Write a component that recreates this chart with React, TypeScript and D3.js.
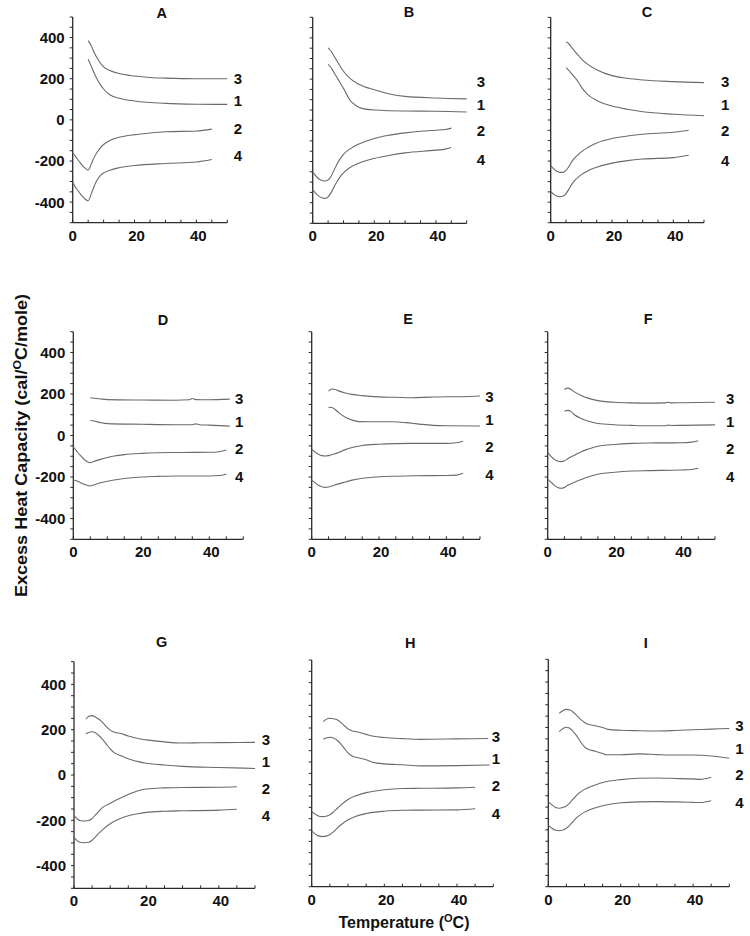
import React from "react";
import * as d3 from "d3";

type Pt = [number, number];

// ---------- DATA ----------
const panelNames = ["A", "B", "C", "D", "E", "F", "G", "H", "I"];
const curveNames = ["3", "1", "2", "4"];
const xTicks = d3.range(0, 51, 5);
const xTickLabels = [0, 20, 40];
const yTicks = d3.range(-500, 501, 50);
const yTickLabels = [400, 200, 0, -200, -400];

// Panel A
const A3: Pt[] = [[5,385],[6,360],[7,325],[8,298],[9,275],[10,258],[12,240],[15,225],[20,213],[25,206],[30,203],[40,200],[50,200]];
const A1: Pt[] = [[5,295],[6,260],[7,225],[8,195],[9,170],[10,150],[12,122],[15,105],[20,92],[30,80],[40,76],[50,75]];
const A2: Pt[] = [[0,-160],[1,-180],[2,-200],[3,-220],[4,-235],[5,-244],[6,-215],[7,-180],[8,-155],[9,-135],[10,-120],[12,-100],[15,-85],[20,-72],[25,-64],[30,-58],[40,-54],[45,-45]];
const A4: Pt[] = [[0,-305],[1,-330],[2,-350],[3,-370],[4,-385],[5,-393],[6,-360],[7,-320],[8,-290],[9,-270],[10,-258],[12,-245],[15,-233],[20,-222],[30,-212],[40,-205],[45,-193]];
// Panel B
const B3: Pt[] = [[5,352],[6,335],[7,310],[8,285],[9,260],[10,238],[12,205],[15,175],[20,148],[25,128],[30,116],[40,108],[50,104]];
const B1: Pt[] = [[5,272],[6,255],[7,230],[8,205],[9,180],[10,155],[12,100],[14,72],[16,58],[20,50],[30,45],[40,44],[50,40]];
const B2: Pt[] = [[0,-250],[1,-270],[2,-285],[3,-292],[4,-295],[5,-290],[6,-270],[7,-240],[8,-210],[9,-185],[10,-165],[12,-140],[15,-115],[20,-88],[25,-72],[30,-61],[35,-53],[40,-48],[43,-45],[45,-38]];
const B4: Pt[] = [[0,-338],[1,-355],[2,-368],[3,-376],[4,-379],[5,-372],[6,-350],[7,-322],[8,-295],[9,-272],[10,-255],[12,-230],[15,-208],[20,-185],[25,-170],[30,-158],[40,-145],[43,-140],[45,-132]];
// Panel C
const C3: Pt[] = [[5,381],[6,370],[7,350],[8,332],[9,315],[10,298],[12,272],[15,245],[20,216],[25,203],[30,195],[40,187],[50,182]];
const C1: Pt[] = [[5,255],[6,240],[7,222],[8,205],[9,185],[10,160],[12,125],[15,95],[20,68],[25,52],[30,40],[40,28],[50,21]];
const C2: Pt[] = [[0,-222],[1,-238],[2,-250],[3,-255],[4,-255],[5,-245],[6,-225],[7,-200],[8,-182],[9,-168],[10,-155],[12,-135],[15,-112],[20,-90],[25,-78],[30,-69],[40,-60],[45,-50]];
const C4: Pt[] = [[0,-349],[1,-362],[2,-370],[3,-373],[4,-370],[5,-358],[6,-335],[7,-310],[8,-292],[9,-278],[10,-266],[12,-248],[15,-230],[20,-210],[25,-198],[30,-190],[40,-183],[45,-172]];
// Panel D
const D3: Pt[] = [[5,182],[8,176],[10,173],[20,171],[30,170],[34,172],[35,178],[36,173],[40,172],[46,175]];
const D1: Pt[] = [[5,72],[6,70],[8,62],[10,57],[20,54],[30,52],[35,52],[36,56],[37,52],[40,50],[46,45]];
const D2: Pt[] = [[0,-55],[1,-75],[2,-95],[3,-112],[4,-125],[5,-131],[6,-125],[8,-115],[10,-106],[12,-99],[15,-92],[20,-86],[25,-83],[30,-82],[40,-81],[43,-78],[45,-70]];
const D4: Pt[] = [[0,-214],[1,-218],[2,-226],[3,-234],[4,-240],[5,-243],[6,-238],[8,-228],[10,-220],[12,-214],[15,-207],[20,-200],[25,-197],[30,-195],[40,-195],[43,-193],[45,-185]];
// Panel E
const E3: Pt[] = [[5,214],[6,224],[7,222],[8,215],[10,205],[12,198],[15,192],[20,186],[25,184],[30,182],[35,185],[40,187],[45,187],[50,190]];
const E1: Pt[] = [[5,136],[6,135],[7,125],[8,110],[10,88],[12,74],[14,67],[20,66],[24,66],[28,62],[32,55],[36,49],[40,47],[50,46]];
const E2: Pt[] = [[0,-67],[1,-80],[2,-90],[3,-97],[4,-99],[5,-97],[6,-92],[8,-82],[10,-68],[12,-58],[15,-48],[20,-42],[25,-39],[30,-38],[40,-38],[43,-35],[45,-28]];
const E4: Pt[] = [[0,-214],[1,-228],[2,-240],[3,-247],[4,-250],[5,-248],[6,-243],[8,-233],[10,-224],[12,-215],[15,-206],[20,-199],[25,-196],[30,-194],[40,-193],[43,-191],[45,-182]];
// Panel F
const F3: Pt[] = [[5,222],[6,228],[7,222],[8,210],[10,193],[12,180],[15,168],[20,160],[25,157],[30,156],[35,157],[36,160],[37,157],[40,158],[50,160]];
const F1: Pt[] = [[5,117],[6,121],[7,115],[8,100],[10,82],[12,70],[15,58],[20,52],[25,49],[30,47],[35,47],[36,50],[37,48],[40,49],[50,51]];
const F2: Pt[] = [[0,-81],[1,-100],[2,-115],[3,-123],[4,-126],[5,-122],[6,-112],[8,-95],[10,-78],[12,-66],[15,-52],[20,-43],[25,-38],[30,-36],[40,-35],[43,-32],[45,-25]];
const F4: Pt[] = [[0,-211],[1,-225],[2,-240],[3,-250],[4,-254],[5,-250],[6,-240],[8,-225],[10,-212],[12,-200],[15,-187],[20,-177],[25,-171],[30,-169],[40,-166],[43,-164],[45,-158]];
// Panel G
const G3: Pt[] = [[3.3,247],[4,258],[5,262],[6,255],[7,245],[8,230],[9,212],[10,198],[11,190],[13,183],[15,172],[18,160],[20,155],[25,146],[30,141],[35,142],[40,143],[50,144]];
const G1: Pt[] = [[3.3,181],[4,188],[5,191],[6,185],[7,172],[8,155],[9,135],[10,115],[11,100],[13,85],[15,72],[18,58],[20,52],[25,44],[30,38],[40,33],[50,29]];
const G2: Pt[] = [[0,-179],[1,-195],[2,-202],[3,-203],[4,-201],[5,-192],[6,-175],[7,-158],[8,-142],[10,-125],[12,-108],[15,-86],[18,-68],[20,-62],[25,-57],[30,-55],[40,-54],[45,-52]];
const G4: Pt[] = [[0,-275],[1,-292],[2,-298],[3,-299],[4,-297],[5,-288],[6,-272],[7,-255],[8,-240],[10,-215],[12,-198],[15,-180],[18,-170],[20,-165],[25,-160],[30,-158],[40,-155],[45,-151]];
// Panel H
const H3: Pt[] = [[3.2,228],[4,238],[5,243],[6,241],[7,236],[8,225],[9,210],[10,196],[11,188],[13,181],[15,172],[17,164],[20,158],[25,153],[30,150],[40,152],[48.6,154]];
const H1: Pt[] = [[3.2,150],[4,156],[5,159],[6,156],[7,146],[8,130],[9,110],[10,90],[11,78],[13,68],[15,60],[17,48],[20,42],[25,38],[30,33],[40,34],[49,37]];
const H2: Pt[] = [[0,-169],[1,-180],[2,-189],[3,-191],[4,-189],[5,-183],[6,-170],[7,-155],[8,-140],[10,-115],[12,-100],[15,-85],[20,-72],[25,-67],[30,-66],[40,-64],[45,-61]];
const H4: Pt[] = [[0,-254],[1,-268],[2,-277],[3,-279],[4,-277],[5,-270],[6,-258],[7,-242],[8,-228],[10,-205],[12,-190],[15,-177],[20,-167],[25,-163],[30,-162],[40,-161],[45,-156]];
// Panel I
const I3: Pt[] = [[3,262],[4,274],[5,280],[6,277],[7,266],[8,250],[9,235],[10,222],[11,214],[13,208],[15,200],[16.5,192],[20,188],[25,186],[30,185],[35,187],[40,190],[45,193],[50,196]];
const I1: Pt[] = [[3,182],[4,195],[5,201],[6,196],[7,180],[8,160],[9,135],[10,115],[11,104],[13,96],[15,86],[16,80],[20,80],[25,84],[30,81],[35,79],[40,79],[45,75],[50,65]];
const I2: Pt[] = [[0,-126],[1,-140],[2,-152],[3,-155],[4,-152],[5,-145],[6,-130],[7,-112],[8,-95],[10,-72],[12,-58],[15,-42],[20,-29],[25,-23],[30,-22],[35,-24],[40,-26],[42,-28],[45,-19]];
const I4: Pt[] = [[0,-229],[1,-243],[2,-252],[3,-254],[4,-251],[5,-243],[6,-228],[7,-210],[8,-194],[10,-172],[12,-158],[15,-144],[20,-131],[25,-127],[30,-126],[35,-127],[40,-129],[42,-130],[45,-122]];

// curves in order 3,1,2,4 for each panel
const panelCurves: Pt[][][] = [
  [A3, A1, A2, A4], [B3, B1, B2, B4], [C3, C1, C2, C4],
  [D3, D1, D2, D4], [E3, E1, E2, E4], [F3, F1, F2, F4],
  [G3, G1, G2, G4], [H3, H1, H2, H4], [I3, I1, I2, I4],
];
// curve-label anchor values (data units) in order 3,1,2,4
const labelValues: number[][] = [
  [199, 96, -41, -176], [187, 78, -52, -189], [186, 73, -54, -200],
  [176, 67, -62, -198], [187, 75, -54, -187], [176, 67, -62, -198],
  [157, 59, -59, -181], [162, 66, -56, -176], [207, 108, -9, -130],
];
const labelTemps = [53.4, 54.6, 56.9, 48.8, 52.8, 54.5, 53, 50.7, 52.8];
const titleTemps = [28.8, 31.3, 31.4, 26.4, 28.6, 30, 24.2, 27.1, 26.9];

// ---------- LAYOUT ----------
const layout = [
  { left: 72.7, right: 227.3, top: 17, bottom: 222.7, titleY: 18.3 },
  { left: 312.7, right: 466.7, top: 17.3, bottom: 223.3, titleY: 16.7 },
  { left: 550.7, right: 704, top: 17.3, bottom: 222.7, titleY: 17.3 },
  { left: 73.3, right: 243.3, top: 331.7, bottom: 539.3, titleY: 325 },
  { left: 311.7, right: 480, top: 331.7, bottom: 539.3, titleY: 324.3 },
  { left: 547.7, right: 715, top: 331.7, bottom: 539.3, titleY: 324.3 },
  { left: 74, right: 255, top: 661.7, bottom: 888.3, titleY: 647.3 },
  { left: 311.7, right: 493.3, top: 660, bottom: 886.7, titleY: 648 },
  { left: 548.3, right: 729.3, top: 659.3, bottom: 886.7, titleY: 648 },
];

const FONT = "'Liberation Sans', Arial, Helvetica, sans-serif";
const LINE = "#6a6a6a";
const AXIS = "#2a2a2a";

function Panel({ idx }: { idx: number }) {
  const L = layout[idx];
  const x = d3.scaleLinear().domain([0, 50]).range([L.left, L.right]);
  const y = d3.scaleLinear().domain([-500, 500]).range([L.bottom, L.top]);
  const line = d3
    .line<Pt>()
    .x((d) => x(d[0]))
    .y((d) => y(d[1]))
    .curve(d3.curveMonotoneX);
  const showY = idx % 3 === 0;
  return (
    <g>
      <text x={x(titleTemps[idx])} y={L.titleY} textAnchor="middle" fontFamily={FONT} fontWeight="bold" fontSize={14.5} fill="#111">
        {panelNames[idx]}
      </text>
      {/* axes */}
      <line x1={L.left} x2={L.left} y1={L.top} y2={L.bottom} stroke={AXIS} strokeWidth={1.3} />
      <line x1={L.left} x2={L.right} y1={L.bottom} y2={L.bottom} stroke={AXIS} strokeWidth={1.3} />
      {yTicks.map((t) => (
        <line key={"yt" + t} x1={L.left - 3} x2={L.left} y1={y(t)} y2={y(t)} stroke={AXIS} strokeWidth={1} />
      ))}
      {xTicks.map((t) => (
        <line key={"xt" + t} x1={x(t)} x2={x(t)} y1={L.bottom} y2={L.bottom - 3} stroke={AXIS} strokeWidth={1} />
      ))}
      {showY &&
        yTickLabels.map((t) => (
          <text key={"yl" + t} x={L.left - 8} y={y(t)} dy="0.36em" textAnchor="end" fontFamily={FONT} fontWeight="bold" fontSize={15} fill="#111">
            {t}
          </text>
        ))}
      {xTickLabels.map((t) => (
        <text key={"xl" + t} x={x(t) + (t === 0 ? 0 : 2)} y={L.bottom + 18} textAnchor="middle" fontFamily={FONT} fontWeight="bold" fontSize={15} fill="#111">
          {t}
        </text>
      ))}
      {/* curves */}
      {panelCurves[idx].map((c, i) => (
        <path key={"c" + i} d={line(c) || ""} fill="none" stroke={LINE} strokeWidth={1.1} />
      ))}
      {curveNames.map((n, i) => (
        <text key={"cl" + n} x={x(labelTemps[idx])} y={y(labelValues[idx][i])} dy="0.36em" textAnchor="middle" fontFamily={FONT} fontWeight="bold" fontSize={15} fill="#111">
          {n}
        </text>
      ))}
    </g>
  );
}

export default function App() {
  return (
    <svg width={750} height={936} style={{ position: "absolute", left: 0, top: 0, background: "#fff" }}>
      <rect x={0} y={0} width={750} height={936} fill="#fff" />
      {panelNames.map((_, i) => (
        <Panel key={i} idx={i} />
      ))}
      <text transform="translate(27,445.5) rotate(-90)" textAnchor="middle" fontFamily={FONT} fontWeight="bold" fontSize={17} textLength={303} lengthAdjust="spacingAndGlyphs" fill="#111">
        Excess Heat Capacity (cal/
        <tspan fontSize={11.5} dy={-6}>O</tspan>
        <tspan dy={6}>C/mole)</tspan>
      </text>
      <text x={404} y={928} textAnchor="middle" fontFamily={FONT} fontWeight="bold" fontSize={16} fill="#111">
        Temperature (
        <tspan fontSize={11} dy={-6}>O</tspan>
        <tspan dy={6}>C)</tspan>
      </text>
    </svg>
  );
}
